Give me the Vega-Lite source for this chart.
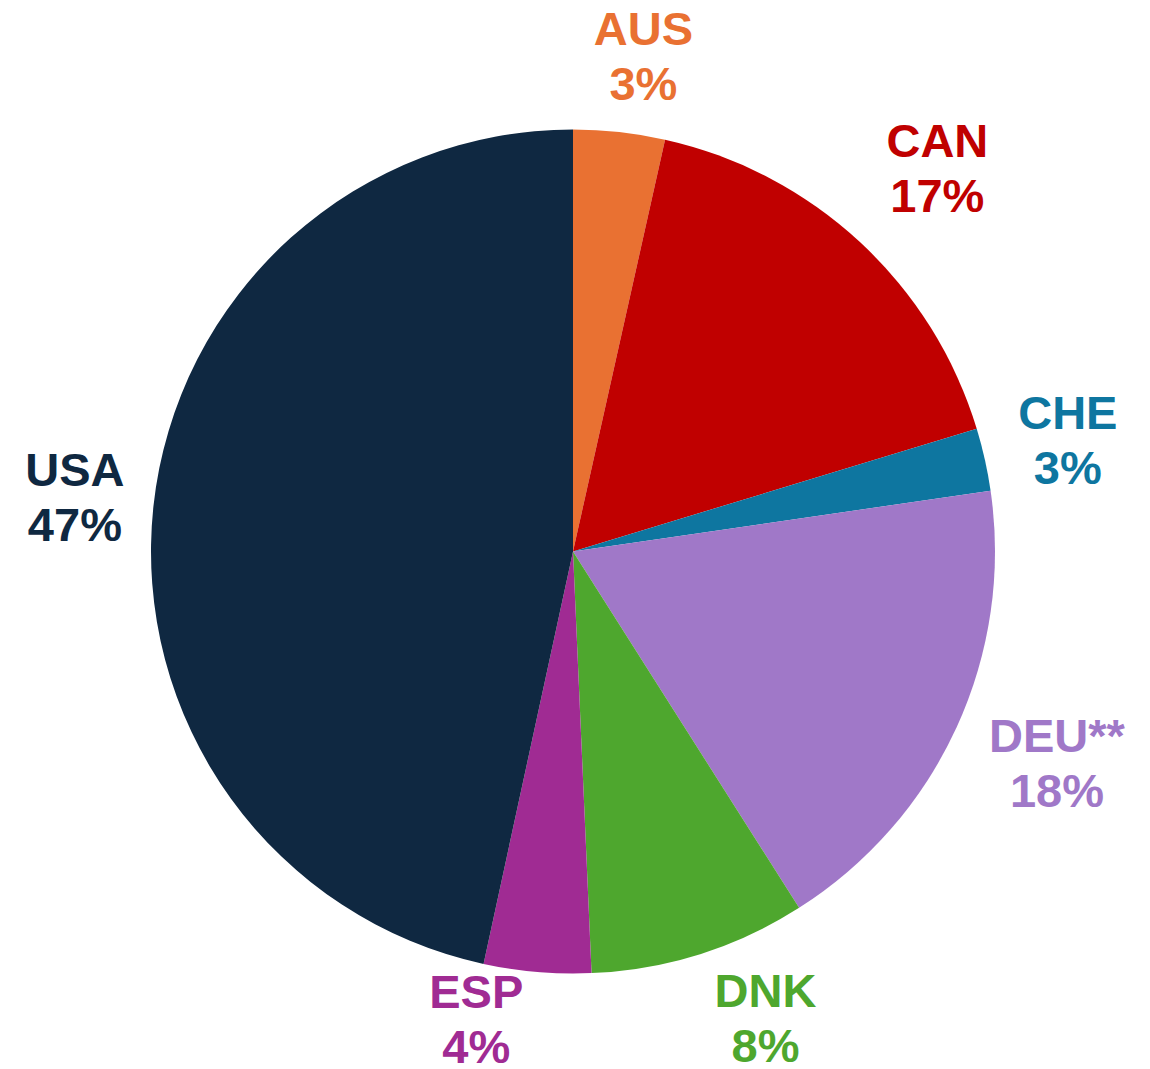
{
  "$schema": "https://vega.github.io/schema/vega-lite/v6.json",
  "width": 1146,
  "height": 1035,
  "padding": {"left": 0, "top": 34, "right": 4, "bottom": 0},
  "autosize": {"type": "none"},
  "background": "white",
  "config": {"view": {"stroke": null}},
  "data": {
    "values": [
      {"country": "AUS", "share": 3.5, "label": "AUS\n3%"},
      {"country": "CAN", "share": 16.8, "label": "CAN\n17%"},
      {"country": "CHE", "share": 2.4, "label": "CHE\n3%"},
      {"country": "DEU", "share": 18.3, "label": "DEU**\n18%"},
      {"country": "DNK", "share": 8.3, "label": "DNK\n8%"},
      {"country": "ESP", "share": 4.1, "label": "ESP\n4%"},
      {"country": "USA", "share": 46.6, "label": "USA\n47%"}
    ]
  },
  "encoding": {
    "theta": {"field": "share", "type": "quantitative", "stack": true},
    "color": {
      "field": "country",
      "type": "nominal",
      "legend": null,
      "scale": {
        "domain": ["AUS", "CAN", "CHE", "DEU", "DNK", "ESP", "USA"],
        "range": ["#E97132", "#C00000", "#0E76A0", "#A078C8", "#4EA72E", "#A02B93", "#0F2841"]
      }
    },
    "order": {"field": "country", "sort": "ascending"}
  },
  "layer": [
    {"mark": {"type": "arc", "outerRadius": 422, "strokeWidth": 0}},
    {
      "mark": {"type": "text", "radius": 505, "dx": 15, "dy": -19, "font": "Liberation Sans", "fontWeight": "bold", "fontSize": 47, "lineHeight": 55, "lineBreak": "\n", "align": "center", "baseline": "middle"},
      "encoding": {"text": {"condition": {"test": "datum.country === 'AUS'", "field": "label"}, "value": ""}}
    },
    {
      "mark": {"type": "text", "radius": 505, "dx": 21, "dy": -38, "font": "Liberation Sans", "fontWeight": "bold", "fontSize": 47, "lineHeight": 55, "lineBreak": "\n", "align": "center", "baseline": "middle"},
      "encoding": {"text": {"condition": {"test": "datum.country === 'CAN'", "field": "label"}, "value": ""}}
    },
    {
      "mark": {"type": "text", "radius": 505, "dx": 2, "dy": -26, "font": "Liberation Sans", "fontWeight": "bold", "fontSize": 47, "lineHeight": 55, "lineBreak": "\n", "align": "center", "baseline": "middle"},
      "encoding": {"text": {"condition": {"test": "datum.country === 'CHE'", "field": "label"}, "value": ""}}
    },
    {
      "mark": {"type": "text", "radius": 505, "dx": 25, "dy": -24, "font": "Liberation Sans", "fontWeight": "bold", "fontSize": 47, "lineHeight": 55, "lineBreak": "\n", "align": "center", "baseline": "middle"},
      "encoding": {"text": {"condition": {"test": "datum.country === 'DEU'", "field": "label"}, "value": ""}}
    },
    {
      "mark": {"type": "text", "radius": 505, "dx": 41, "dy": -40, "font": "Liberation Sans", "fontWeight": "bold", "fontSize": 47, "lineHeight": 55, "lineBreak": "\n", "align": "center", "baseline": "middle"},
      "encoding": {"text": {"condition": {"test": "datum.country === 'DNK'", "field": "label"}, "value": ""}}
    },
    {
      "mark": {"type": "text", "radius": 505, "dx": -54, "dy": -61, "font": "Liberation Sans", "fontWeight": "bold", "fontSize": 47, "lineHeight": 55, "lineBreak": "\n", "align": "center", "baseline": "middle"},
      "encoding": {"text": {"condition": {"test": "datum.country === 'ESP'", "field": "label"}, "value": ""}}
    },
    {
      "mark": {"type": "text", "radius": 505, "dx": 4, "dy": -26, "font": "Liberation Sans", "fontWeight": "bold", "fontSize": 47, "lineHeight": 55, "lineBreak": "\n", "align": "center", "baseline": "middle"},
      "encoding": {"text": {"condition": {"test": "datum.country === 'USA'", "field": "label"}, "value": ""}}
    }
  ]
}
